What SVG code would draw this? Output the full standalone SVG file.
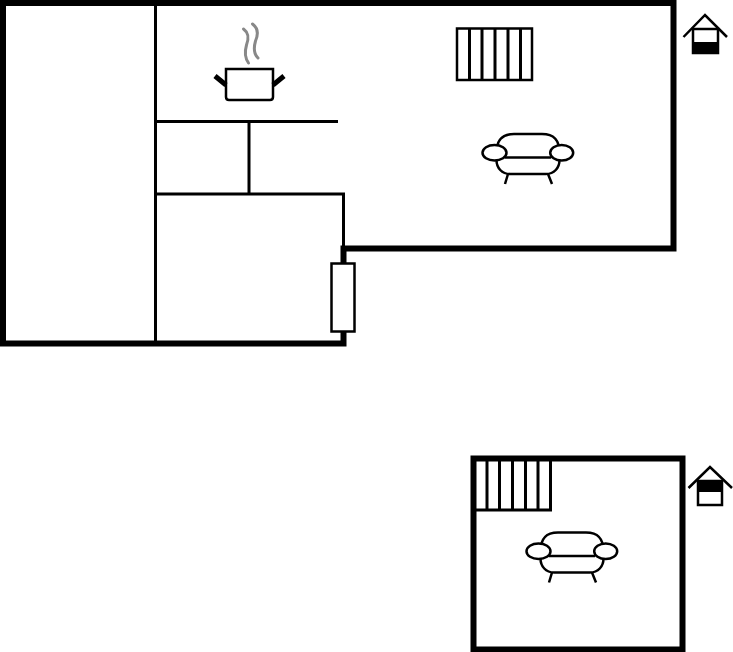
<svg xmlns="http://www.w3.org/2000/svg" width="733" height="652" viewBox="0 0 733 652">
<defs>
<style>
.wall{fill:none;stroke:#000;stroke-width:6;stroke-linecap:square}
.in{fill:none;stroke:#000;stroke-width:3}
.thin{fill:none;stroke:#000;stroke-width:2.500}
.f{fill:#fff;stroke:#000;stroke-width:2.500}
.steam{fill:none;stroke:#888;stroke-width:3;stroke-linecap:round}
</style>
<g id="sofa">
<path class="f" d="M496.500 153 C496.500 140 502 134 514 134 H542 C554 134 559.500 140 559.500 153 V160 C559.500 168 554 174 546 174 H510 C502 174 496.500 168 496.500 160 Z"/>
<path class="thin" d="M505 157.500 H551"/>
<ellipse class="f" cx="494.500" cy="152.800" rx="12" ry="7.800"/>
<ellipse class="f" cx="561.700" cy="152.800" rx="11.500" ry="7.800"/>
<path class="thin" d="M508 174 L505 184 M548 174 L552 184"/>
</g>
</defs>
<rect width="733" height="652" fill="#fff"/>
<g id="ground-floor">
<path class="wall" d="M3 3 H673.500 V248.500 H343.500 V343.500 H3 Z"/>
<path class="in" d="M155.500 3 V343 M156 121.500 H338 M156 194 H343.500 V248 M249 121 V194"/>
</g>
<g id="door"><rect x="331.500" y="263.500" width="23" height="68" class="f"/></g>
<g id="pot">
<path class="steam" d="M243.500 29 C249 33 249 38 246.500 45 C244.500 52 245 58 248.500 63"/>
<path class="steam" d="M252.500 24 C258 28 258.500 34 255.500 41 C253.500 48 254 54 258 58"/>
<path class="f" d="M226 69 H273 V97 Q273 100 270 100 H229 Q226 100 226 97 Z"/>
<path d="M215 76 L226 85 M284 76 L273 85" fill="none" stroke="#000" stroke-width="5"/>
</g>
<g id="stairs-upper">
<rect class="f" x="457" y="28.500" width="75" height="51.500"/>
<path class="in" d="M469.500 29 V80 M482 29 V80 M495 29 V80 M508 29 V80 M520.500 29 V80"/>
</g>
<use id="sofa-1" href="#sofa"/>
<g id="icon-ground">
<path class="thin" d="M683.500 37 L705 15 L727 37"/>
<rect x="693" y="29" width="25" height="24" fill="#fff" stroke="#000" stroke-width="2.500"/>
<rect x="693" y="42" width="25" height="11"/>
</g>
<g id="first-floor">
<rect class="wall" x="473.500" y="458.500" width="209" height="191"/>
</g>
<g id="stairs-lower">
<path class="in" d="M474 510 H550.500 V459 M487 459 V510 M499.500 459 V510 M512.500 459 V510 M525.500 459 V510 M538 459 V510"/>
</g>
<use id="sofa-2" href="#sofa" x="44" y="398.500"/>
<g id="icon-first">
<path class="thin" d="M688.500 488 L710 467 L732 488"/>
<rect x="698" y="481" width="24" height="24" fill="#fff" stroke="#000" stroke-width="2.500"/>
<rect x="698" y="481" width="24" height="11"/>
</g>
<g id="connectors"/>
</svg>
